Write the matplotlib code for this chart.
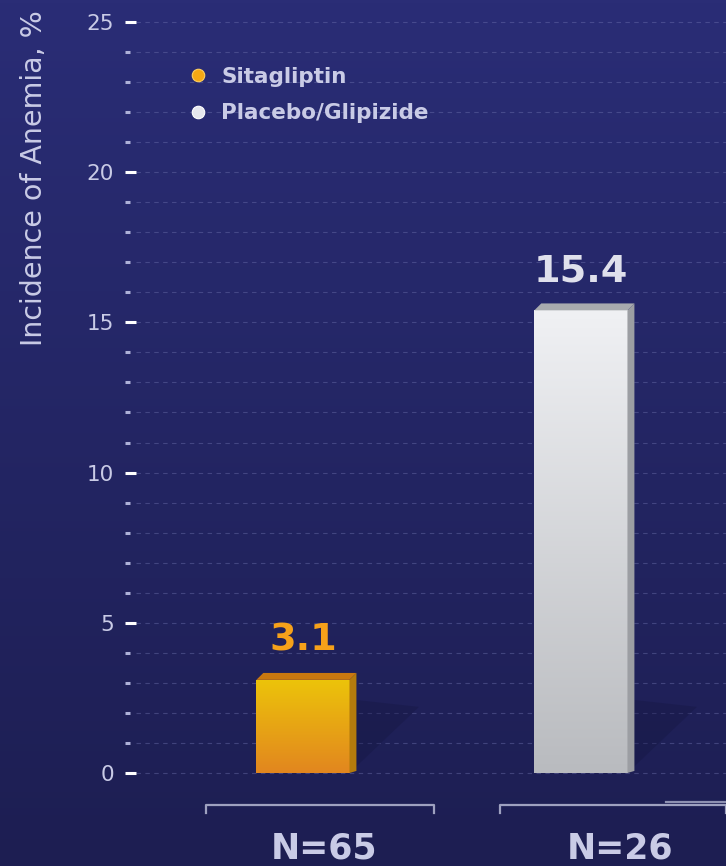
import numpy as np
import matplotlib.pyplot as plt
from matplotlib.lines import Line2D
from matplotlib.patches import Polygon
from matplotlib.colors import LinearSegmentedColormap

# Data
groups = ['Sitagliptin', 'Placebo/Glipizide']
anemia_pct = [3.1, 15.4]
n_labels = ['N=65', 'N=26']
y_ticks = [0, 5, 10, 15, 20, 25]

txt_col = '#c9cbe6'
face_top = ['#ecc40a', '#f0f1f4']
face_bot = ['#e2861f', '#b9bbbf']
side_col = ['#b47b0c', '#9c9ea3']
roof_col = ['#c9780f', '#a8aaae']
value_col = ['#f6a11a', '#dfe0ec']

fig = plt.figure(figsize=(7.26, 8.66), dpi=100)

# background gradient
bg = fig.add_axes([0, 0, 1, 1], zorder=-1)
grad = np.linspace(0, 1, 256).reshape(-1, 1)
bg_cmap = LinearSegmentedColormap.from_list('bg', ['#2a2d76', '#1d1e52'])
bg.imshow(grad, aspect='auto', cmap=bg_cmap, extent=[0, 1, 0, 1])
bg.axis('off')

ax = fig.add_axes([125 / 726, 0, 601 / 726, 1])
ax.patch.set_alpha(0)
ax.set_ylim(-3.096, 25.73)
ax.set_xlim(-0.64, 1.522)
for s in ax.spines.values():
    s.set_visible(False)

# ticks and dashed grid
ax.set_yticks(y_ticks)
ax.set_yticks(np.arange(0, 26), minor=True)
ax.set_xticks([])
ax.tick_params(axis='y', which='major', direction='in', length=8, width=2.2,
               color='white', labelcolor=txt_col, labelsize=15.5, pad=8)
ax.tick_params(axis='y', which='minor', direction='in', length=3.5, width=2.2,
               color='#aeb1d8')
for v in range(0, 26):
    ax.plot([-0.6, 1.522], [v, v], color='#7579b4', lw=0.8, ls=(0, (4, 4)),
            alpha=0.4, zorder=0)
ax.set_ylabel('Incidence of Anemia, %', color=txt_col, fontsize=20.5)
ax.yaxis.set_label_coords(-0.128, 0.794)

# bars with gradient faces and a bit of depth
width = 0.335
dx, dy = 0.025, 0.23
x = np.arange(len(anemia_pct))
bars = ax.bar(x, anemia_pct, width=width, color='none', zorder=3)
for i, (b, v) in enumerate(zip(bars, anemia_pct)):
    x0, x1 = b.get_x(), b.get_x() + width
    # soft shadow behind
    ax.add_patch(Polygon([[x1, 0], [x1 + 0.25, 2.2], [x1 + dx, min(v, 2.2) + dy]],
                         closed=True, color='#141540', alpha=0.35, lw=0, zorder=1))
    cm = LinearSegmentedColormap.from_list('f%d' % i, [face_bot[i], face_top[i]])
    im = ax.imshow(grad[::-1], cmap=cm, aspect='auto', extent=[x0, x1, 0, v],
                   zorder=3, vmin=0, vmax=1)
    im.set_clip_path(b)
    ax.add_patch(Polygon([[x1, 0], [x1 + dx, dy * 0.3], [x1 + dx, v + dy], [x1, v]],
                         closed=True, color=side_col[i], lw=0, zorder=3))
    ax.add_patch(Polygon([[x0, v], [x0 + dx, v + dy], [x1 + dx, v + dy], [x1, v]],
                         closed=True, color=roof_col[i], lw=0, zorder=3))
    ax.text(b.get_x() + width / 2, v + 0.7, f'{v:.1f}', ha='center', va='bottom',
            color=value_col[i], fontsize=27.5, fontweight='bold', zorder=4)

# group brackets and sample sizes
brackets = [(-0.349, 0.471), (0.709, 1.522)]
n_pos = [0.076, 1.14]
for (a, b2), lab, xc in zip(brackets, n_labels, n_pos):
    ax.plot([a, a, b2, b2], [-1.33, -1.07, -1.07, -1.33], color='#9ea1c0',
            lw=1.6, clip_on=False)
    ax.text(xc, -2.5, lab, ha='center', va='center', color=txt_col,
            fontsize=25, fontweight='bold')
ax.plot([1.305, 1.522], [-0.98, -0.98], color='#8e91b2', lw=1.6)

# legend
handles = [Line2D([], [], ls='none', marker='o', markersize=9,
                  markerfacecolor=c, markeredgecolor=e, markeredgewidth=0.8)
           for c, e in [('#f5a814', '#ffd060'), ('#e6e7ee', '#ffffff')]]
leg = ax.legend(handles, groups, loc='upper left', bbox_to_anchor=(0.072, 0.945),
                frameon=False, fontsize=15.5, labelspacing=0.75, handletextpad=0.55,
                handlelength=1.0)
for t in leg.get_texts():
    t.set_color(txt_col)
    t.set_fontweight('bold')

fig.savefig('out.png', dpi=100)
